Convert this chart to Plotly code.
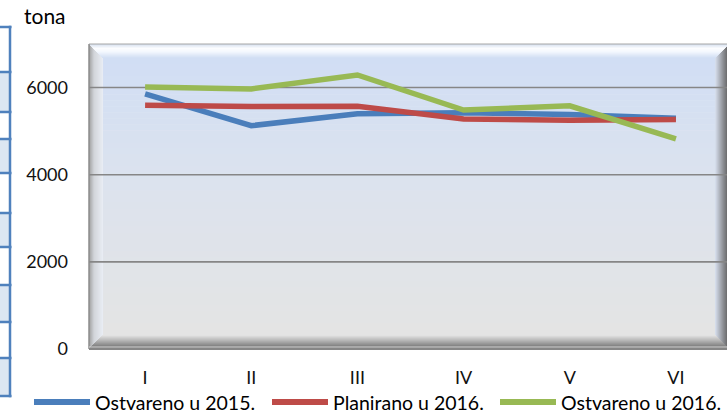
import plotly.graph_objects as go

# ---------------- data ----------------
categories = ["I", "II", "III", "IV", "V", "VI"]
ostvareno_2015 = [5855, 5125, 5400, 5420, 5380, 5295]
planirano_2016 = [5595, 5565, 5570, 5280, 5250, 5265]
ostvareno_2016 = [6015, 5970, 6290, 5485, 5580, 4820]
series_names = ["Ostvareno u 2015.", "Planirano u 2016.", "Ostvareno u 2016."]
series_colors = ["#4A7EBB", "#BE4B48", "#98B954"]
y_ticks = [0, 2000, 4000, 6000]
y_unit = "tona"

# ---------------- geometry (pixels) ----------------
W, H = 727, 415
ML, MR, MT, MB = 92, 0, 44, 66
PW = W - ML - MR
PH = H - MT - MB
FONT = "Lato"


def px(x):
    return (x - ML) / PW


def py(y):
    return (H - MB - y) / PH


def lerp_col(c1, c2, t):
    a = [int(c1[i:i + 2], 16) for i in (1, 3, 5)]
    b = [int(c2[i:i + 2], 16) for i in (1, 3, 5)]
    return "#%02x%02x%02x" % tuple(round(a[k] + (b[k] - a[k]) * t) for k in range(3))


def grad(stops, t):
    for i in range(len(stops) - 1):
        t0, c0 = stops[i]
        t1, c1 = stops[i + 1]
        if t0 <= t <= t1:
            return lerp_col(c0, c1, (t - t0) / (t1 - t0) if t1 > t0 else 0)
    return stops[-1][1]


shapes = []


def rect(x0, y0, x1, y1, color, layer="below"):
    shapes.append(dict(type="rect", xref="paper", yref="paper",
                       x0=px(x0), x1=px(x1), y0=py(y0), y1=py(y1),
                       fillcolor=color, line=dict(width=0), layer=layer))


def hline(x0, x1, y, color, width, layer="below"):
    shapes.append(dict(type="line", xref="paper", yref="paper",
                       x0=px(x0), x1=px(x1), y0=py(y), y1=py(y),
                       line=dict(color=color, width=width), layer=layer))


def vline(x, y0, y1, color, width, layer="below"):
    shapes.append(dict(type="line", xref="paper", yref="paper",
                       x0=px(x), x1=px(x), y0=py(y0), y1=py(y1),
                       line=dict(color=color, width=width), layer=layer))


# frame geometry
FL, FT, FR, FB = 89, 44, 729, 349
BV = 14  # bevel size

# inner gradient background
inner_top, inner_bot = FT + BV, FB - BV
n = 46
for i in range(n):
    y0 = inner_top + (inner_bot - inner_top) * i / n
    y1 = inner_top + (inner_bot - inner_top) * (i + 1) / n + 0.6
    c = grad([(0, "#D1DEF4"), (0.45, "#DCE3EE"), (1, "#E4E4E4")], i / (n - 1))
    rect(FL + BV - 1, y0, FR - BV + 1, y1, c)

# top bevel (light)
for k in range(BV):
    c = grad([(0, "#D9E2F0"), (0.3, "#FCFDFF"), (0.55, "#F4F8FE"), (1, "#D3E0F4")], k / (BV - 1))
    rect(FL + k, FT + k, FR - k, FT + k + 1.05, c)
# bottom bevel (dark)
for k in range(BV):
    c = grad([(0, "#707070"), (0.15, "#7C7C7C"), (0.6, "#B4B4B4"), (1, "#E2E2E2")], k / (BV - 1))
    rect(FL + k, FB - k - 1.05, FR - k, FB - k, c)
# left bevel
for k in range(BV):
    c = grad([(0, "#A4A4A4"), (0.35, "#D2D5DA"), (1, "#E8ECF3")], k / (BV - 1))
    rect(FL + k, FT + k + 1, FL + k + 1.05, FB - k - 1, c)
# right bevel
for k in range(BV):
    c = grad([(0, "#5E5E5E"), (0.4, "#8C8E93"), (1, "#D4DCEA")], k / (BV - 1))
    rect(FR - k - 1.05, FT + k + 1, FR - k, FB - k - 1, c)

# horizontal gridlines across the whole frame (incl. bevels)
for v in y_ticks[1:]:
    shapes.append(dict(type="line", xref="paper", yref="y", x0=px(FL), x1=px(FR),
                       y0=v, y1=v, line=dict(color="#868686", width=1.6), layer="below"))

# frame outlines
hline(FL, FR, FT, "#A6A6A6", 1)
vline(FL, FT, FB, "#8C8C8C", 1.5)
hline(FL, FR, FB - 2, "#D8D8D8", 1)
hline(FL, FR, FB, "#868686", 2)

# cropped table fragment on the left edge
table_lines = [27, 72, 112, 139, 173, 213, 247, 285, 322, 358, 396]
table_fill_rows = [(1, 2), (3, 4), (5, 6), (7, 8), (9, 10)]
for a, b in table_fill_rows:
    rect(-5, table_lines[a], 10, table_lines[b], "#DCE6F2")
for yy in table_lines:
    hline(-5, 11.5, yy, "#4F81BD", 2.5)
vline(10, table_lines[0] - 1.2, table_lines[-1] + 1.2, "#4F81BD", 2.5)

# ---------------- traces ----------------
fig = go.Figure()
for name, vals, col in zip(series_names, [ostvareno_2015, planirano_2016, ostvareno_2016], series_colors):
    fig.add_trace(go.Scatter(x=categories, y=vals, mode="lines", name=name,
                             line=dict(color=col, width=5.5), showlegend=False,
                             hoverinfo="skip"))

# ---------------- manual legend ----------------
annotations = []
legend_y = 402
legend_items = [(34, 90, 93), (272, 328, 331), (500, 556, 559)]
for (lx0, lx1, tx), name, col in zip(legend_items, series_names, series_colors):
    shapes.append(dict(type="path", xref="paper", yref="paper",
                       path="M %f %f L %f %f" % (px(lx0), py(legend_y), px(lx1), py(legend_y)),
                       line=dict(color=col, width=6), layer="above"))
    annotations.append(dict(xref="paper", yref="paper", x=px(tx), y=py(legend_y),
                            xanchor="left", yanchor="middle", text=name, showarrow=False,
                            font=dict(family=FONT, size=19.5, color="#000000")))

annotations.append(dict(xref="paper", yref="paper", x=px(22), y=py(15),
                        xanchor="left", yanchor="middle", text=y_unit, showarrow=False,
                        font=dict(family=FONT, size=21, color="#000000")))

cat_w = 106.17
x_hi = -0.5 + PW / cat_w

fig.update_layout(
    width=W, height=H, autosize=False,
    margin=dict(l=ML, r=MR, t=MT, b=MB, pad=0),
    paper_bgcolor="#FFFFFF", plot_bgcolor="rgba(0,0,0,0)",
    shapes=shapes, annotations=annotations,
    font=dict(family=FONT, size=18, color="#000000"),
    showlegend=False,
)
fig.update_xaxes(type="category", range=[-0.5, x_hi], showgrid=False, zeroline=False,
                 showline=False, ticks="", ticklabelstandoff=16,
                 tickfont=dict(family=FONT, size=18, color="#111111"))
fig.update_yaxes(range=[0, 7000], tickvals=y_ticks, showgrid=False,
                 zeroline=False, showline=False, ticks="",
                 ticklabelstandoff=23,
                 tickfont=dict(family=FONT, size=18, color="#111111"))

fig.write_html("out.html", config={"displayModeBar": False},
               post_script="document.body.style.margin='0px';document.body.style.padding='0px';document.body.style.overflow='hidden';")
